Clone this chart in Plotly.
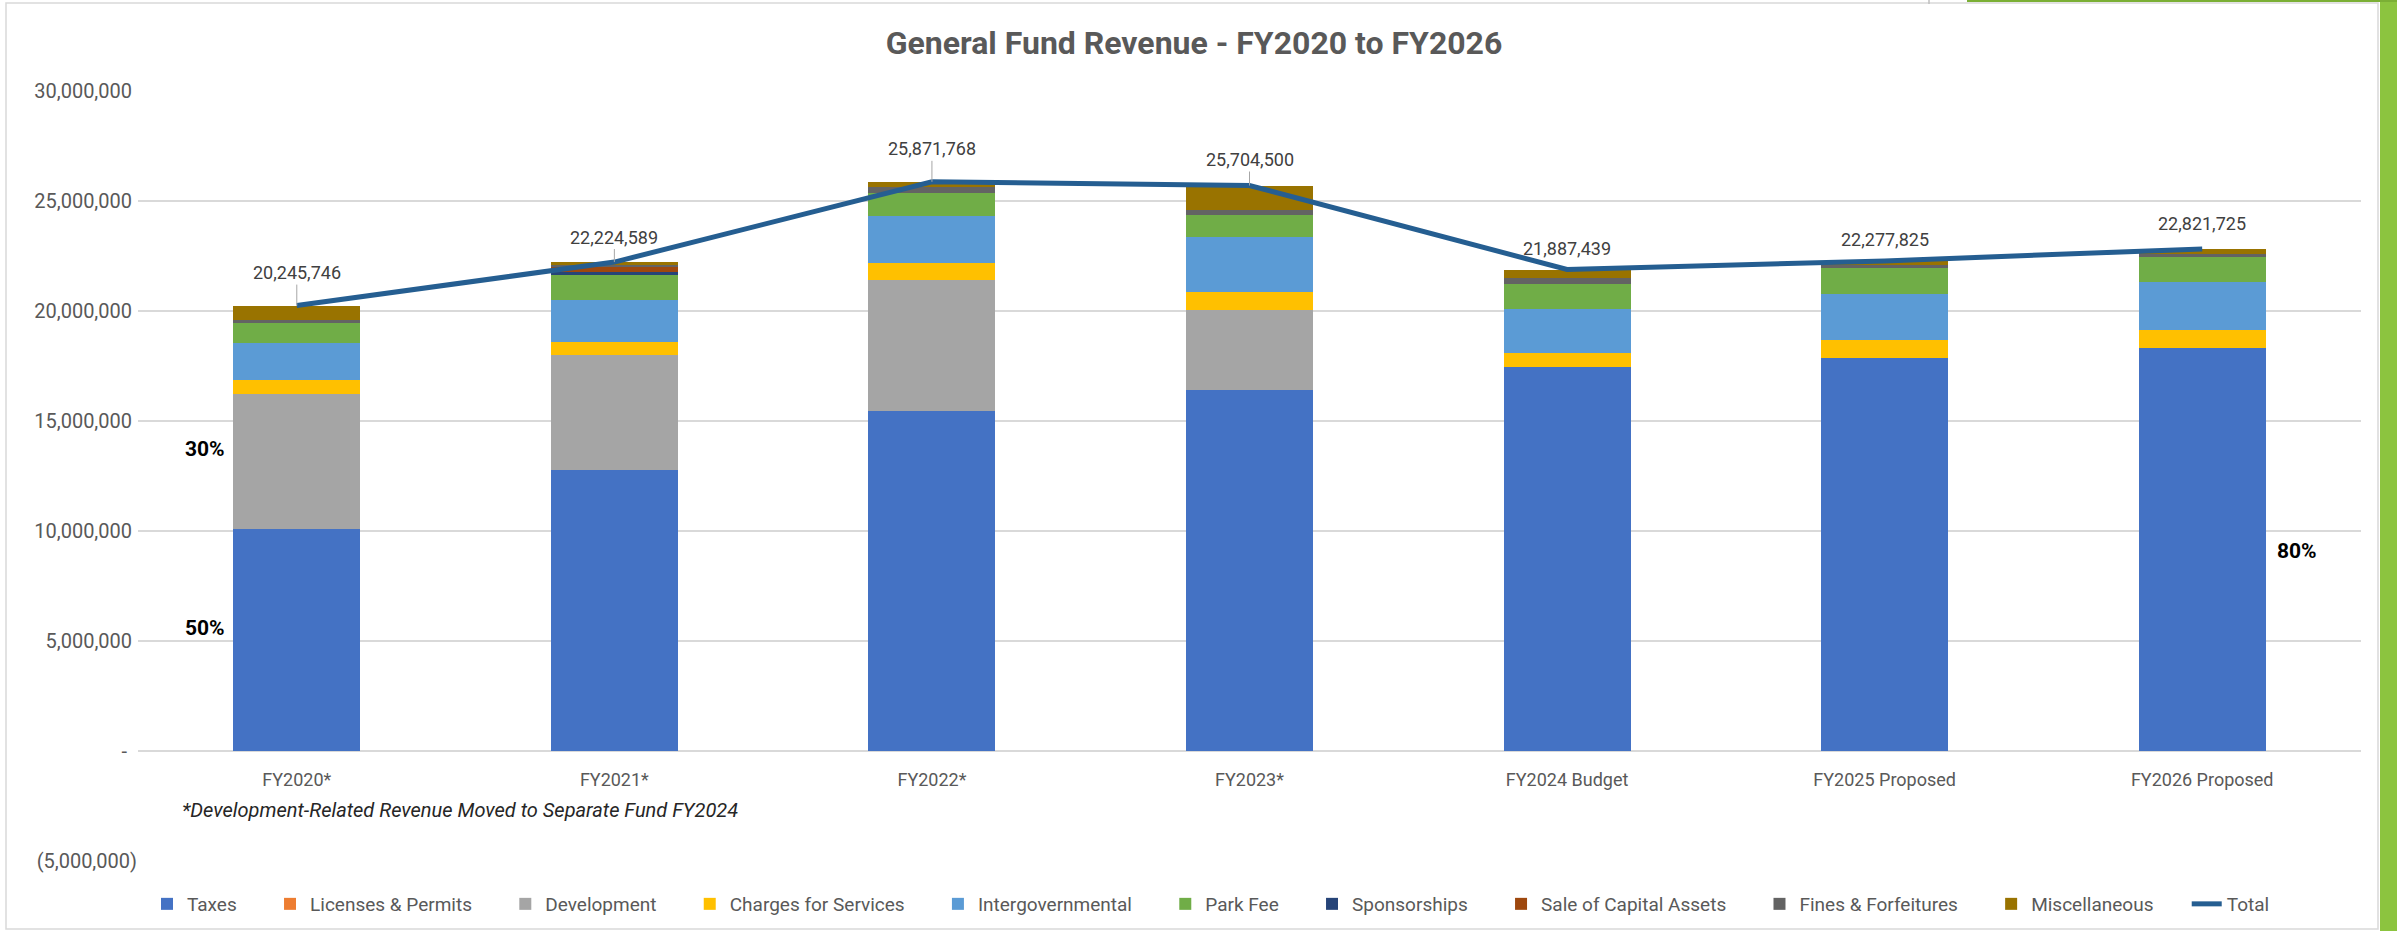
import plotly.graph_objects as go

# ---------------- data ----------------
categories = ["FY2020*", "FY2021*", "FY2022*", "FY2023*", "FY2024 Budget", "FY2025 Proposed", "FY2026 Proposed"]

taxes = [10_100_000, 12_790_000, 15_450_000, 16_400_000, 17_450_000, 17_850_000, 18_330_000]
licenses_permits = [0, 0, 0, 0, 0, 0, 0]
development = [6_140_000, 5_190_000, 5_960_000, 3_640_000, 0, 0, 0]
charges_for_services = [610_000, 600_000, 770_000, 820_000, 640_000, 840_000, 820_000]
intergovernmental = [1_710_000, 1_900_000, 2_160_000, 2_490_000, 2_020_000, 2_090_000, 2_170_000]
park_fee = [890_000, 1_170_000, 1_030_000, 1_020_000, 1_130_000, 1_160_000, 1_150_000]
sponsorships = [0, 120_000, 0, 0, 0, 0, 0]
sale_of_capital_assets = [0, 260_000, 0, 0, 0, 0, 0]
fines_forfeitures = [160_000, 50_000, 250_000, 210_000, 280_000, 150_000, 110_000]
miscellaneous = [640_000, 140_000, 250_000, 1_120_000, 360_000, 180_000, 240_000]
total = [20_245_746, 22_224_589, 25_871_768, 25_704_500, 21_887_439, 22_277_825, 22_821_725]

series_names = ["Taxes", "Licenses & Permits", "Development", "Charges for Services",
                "Intergovernmental", "Park Fee", "Sponsorships", "Sale of Capital Assets",
                "Fines & Forfeitures", "Miscellaneous"]
series_values = [taxes, licenses_permits, development, charges_for_services, intergovernmental,
                 park_fee, sponsorships, sale_of_capital_assets, fines_forfeitures, miscellaneous]

y_tick_values = [-5_000_000, 0, 5_000_000, 10_000_000, 15_000_000, 20_000_000, 25_000_000, 30_000_000]
y_tick_labels = ["(5,000,000)", "-", "5,000,000", "10,000,000", "15,000,000",
                 "20,000,000", "25,000,000", "30,000,000"]

title_text = "General Fund Revenue - FY2020 to FY2026"
footnote_text = "*Development-Related Revenue Moved to Separate Fund FY2024"

# ---------------- styles ----------------
colors = ["#4472C4", "#ED7D31", "#A5A5A5", "#FFC000", "#5B9BD5", "#70AD47",
          "#264478", "#9E480E", "#636363", "#997300"]
line_color = "#255E91"
FONT = "Roboto, Liberation Sans, sans-serif"
GREY_TEXT = "#595959"
label_offsets = [-33, -25, -33, -26, -21, -21, -25]
leader_visible = [True, True, True, True, False, False, False]
LEGEND_PAD = "\u00a0" * 6

W, H = 2397, 931
ML, MR, MT, MB = 138, 36, 91, 70

fig = go.Figure()
for name, vals, col in zip(series_names, series_values, colors):
    fig.add_trace(go.Bar(x=categories, y=vals, name=name + LEGEND_PAD,
                         marker=dict(color=col, line=dict(width=0))))

fig.add_trace(go.Scatter(x=categories, y=total, name="Total", mode="lines",
                         line=dict(color=line_color, width=5)))

# data labels for totals
for cat, val, off, lead in zip(categories, total, label_offsets, leader_visible):
    fig.add_annotation(x=cat, y=val, xref="x", yref="y", text=f"{val:,}",
                       showarrow=True, ax=0, ay=off, arrowhead=0, arrowwidth=1,
                       arrowcolor="#A6A6A6" if lead else "rgba(0,0,0,0)",
                       font=dict(family=FONT, size=18, color="#404040"))

# percentage notes
pct_notes = [("30%", -0.29, 13_740_000), ("50%", -0.29, 5_610_000), ("80%", 6.297, 9_100_000)]
for txt, xv, yv in pct_notes:
    fig.add_annotation(x=xv, y=yv, xref="x", yref="y", text=f"<b>{txt}</b>", showarrow=False,
                       font=dict(family=FONT, size=21, color="#000000"))

# footnote
fig.add_annotation(x=(180 - ML) / (W - ML - MR), y=-2_700_000, xref="paper", yref="y",
                   xanchor="left", yanchor="middle", showarrow=False,
                   text=f"<i>{footnote_text}</i>",
                   font=dict(family=FONT, size=20, color="#262626"))

pw, ph = W - ML - MR, H - MT - MB
def px_x(p):
    return (p - ML) / pw
def px_y(p):
    return (H - MB - p) / ph

# outer frame and green edge
fig.add_shape(type="rect", xref="paper", yref="paper", x0=px_x(6), x1=px_x(2378), y0=px_y(929), y1=px_y(3),
              line=dict(color="#D9D9D9", width=1.5), fillcolor="rgba(0,0,0,0)", layer="below")
fig.add_shape(type="line", xref="paper", yref="paper", x0=px_x(1929), x1=px_x(1929), y0=px_y(4), y1=px_y(-5),
              line=dict(color="#BFBFBF", width=1.5))
fig.add_shape(type="rect", xref="paper", yref="paper", x0=px_x(2380), x1=px_x(2400), y0=px_y(935), y1=px_y(-5),
              line=dict(width=0), fillcolor="#8CC43F")
fig.add_shape(type="rect", xref="paper", yref="paper", x0=px_x(1967), x1=px_x(2400), y0=px_y(2), y1=px_y(-5),
              line=dict(width=0), fillcolor="#7BAF35")

fig.update_layout(
    width=W, height=H,
    margin=dict(l=ML, r=MR, t=MT, b=MB, pad=0, autoexpand=False),
    paper_bgcolor="white", plot_bgcolor="white",
    barmode="stack", bargap=0.6,
    font=dict(family=FONT, color=GREY_TEXT, size=19),
    title=dict(text=f"<b>{title_text}</b>", x=1194 / W, xanchor="center", y=1 - 43 / H, yanchor="middle",
               xref="container", yref="container",
               font=dict(family=FONT, size=32, color=GREY_TEXT)),
    legend=dict(orientation="h", x=px_x(1211), xanchor="center", y=px_y(904), yanchor="middle",
                traceorder="normal", font=dict(family=FONT, size=19, color=GREY_TEXT),
                bgcolor="rgba(0,0,0,0)"),
    showlegend=True,
)

fig.update_xaxes(type="category", range=[-0.5, 6.5], anchor="free", position=5 / 35,
                 showgrid=False, showline=False, zeroline=False,
                 ticks="outside", ticklen=12, tickcolor="rgba(0,0,0,0)",
                 tickfont=dict(family=FONT, size=18, color=GREY_TEXT))
fig.update_yaxes(range=[-5_000_000, 30_000_000], tickvals=y_tick_values,
                 ticktext=[t + ("\u00a0" * 2 if t == "-" else ("" if t.startswith("(") else "\u00a0")) for t in y_tick_labels],
                 showgrid=True, gridcolor="#D9D9D9", gridwidth=1.5, zeroline=False, showline=False,
                 ticks="", tickfont=dict(family=FONT, size=20, color=GREY_TEXT))

fig.write_html("out.html", config={"displayModeBar": False},
               post_script="document.body.style.margin='0';")
